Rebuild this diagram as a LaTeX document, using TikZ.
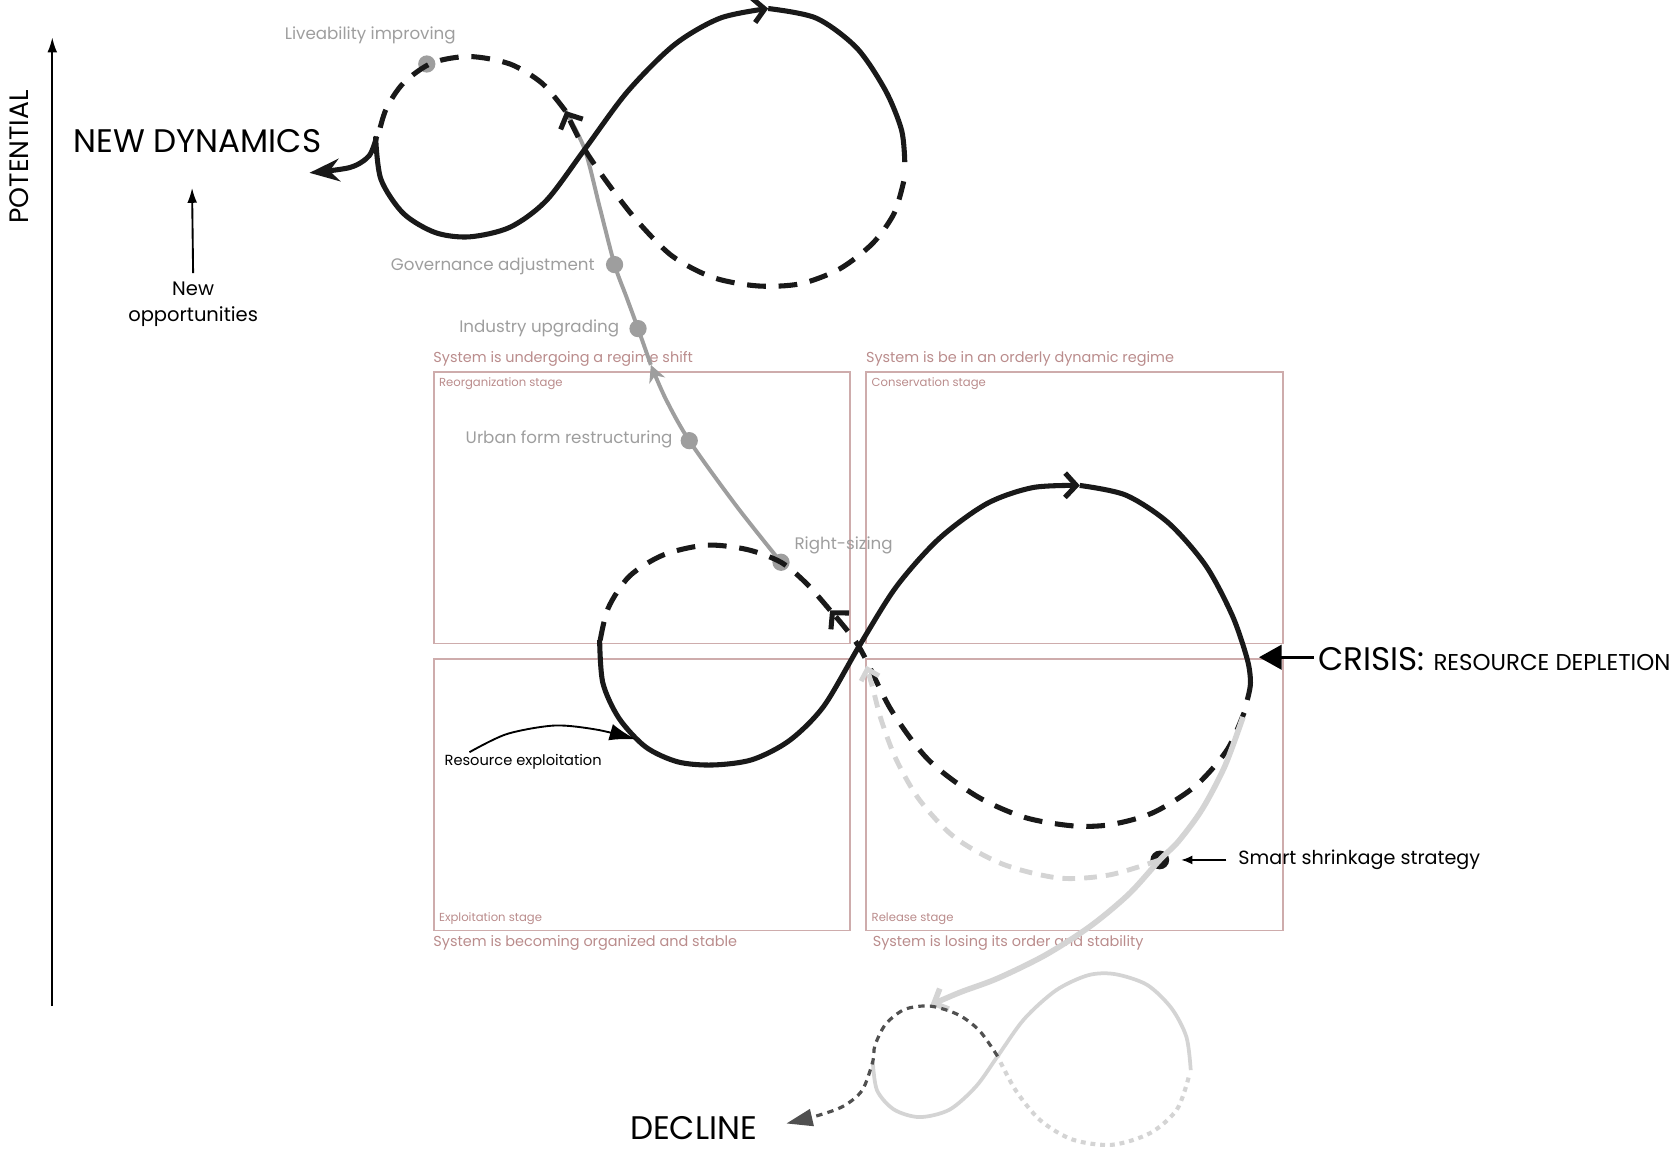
\documentclass[tikz,border=0pt]{standalone}
\usepackage{fontspec}
\setmainfont{Poppins}
\usepackage{xcolor}
\usepackage{tikz}
\usetikzlibrary{arrows.meta,positioning}

\definecolor{stageline}{RGB}{206,172,172}
\definecolor{stageink}{RGB}{186,140,140}
\definecolor{shiftgray}{RGB}{158,158,158}
\definecolor{fadegray}{RGB}{212,212,212}
\definecolor{declineink}{RGB}{80,80,80}
\definecolor{cycleink}{RGB}{25,25,25}

\begin{document}
\begin{tikzpicture}[x=0.01cm, y=-0.01cm,
    stagebox/.style={draw=stageline, line width=0.5pt, minimum width=3.9cm, minimum height=2.54cm, inner sep=0pt},
    stagehead/.style={text=stageink, inner sep=1pt, font={\fontsize{3.85}{5}\selectfont}},
    stagename/.style={text=stageink, inner sep=1.5pt, font={\fontsize{3.1}{4}\selectfont}},
    shiftlabel/.style={text=shiftgray, inner sep=0pt, font={\fontsize{4.45}{5.5}\selectfont}},
    shiftdot/.style={circle, fill=shiftgray, minimum size=4.6pt, inner sep=0pt},
    bigword/.style={inner sep=0pt, font={\fontsize{8.7}{10}\selectfont}},
    note/.style={inner sep=0pt, align=center, font={\fontsize{5.2}{7.1}\selectfont}},
    cyclesolid/.style={cycleink, line width=1.35pt},
    cycledash/.style={cycleink, line width=1.35pt, dash pattern=on 5pt off 3.4pt},
    fadesolid/.style={fadegray, line width=1.5pt},
    fadedash/.style={fadegray, line width=1.3pt, dash pattern=on 3.4pt off 2.4pt},
    shiftline/.style={shiftgray, line width=1.05pt},
    barb/.style={-{Straight Barb[length=3pt, width=6.5pt]}},
    pointer/.style={-{Latex[length=4pt, width=2.6pt]}, line width=0.5pt}
]
\useasboundingbox (0,0) rectangle (1568,1077);

\node[stagebox] (reorg) at (601.5,476) {};
\node[stagebox] (conserv) at (1007,476) {};
\node[stagebox] (exploit) at (601.5,745) {};
\node[stagebox] (release) at (1007,745) {};
\node[stagehead, anchor=south west] at ([xshift=-1pt]reorg.north west) {System is undergoing a regime shift};
\node[stagehead, anchor=south west] at ([xshift=-1pt]conserv.north west) {System is be in an orderly dynamic regime};
\node[stagehead, anchor=north west] at ([xshift=-1pt]exploit.south west) {System is becoming organized and stable};
\node[stagehead, anchor=north west] at ([xshift=0.8pt]release.south west) {System is losing its order and stability};
\node[stagename, anchor=north west] at (reorg.north west) {Reorganization stage};
\node[stagename, anchor=north west] at (conserv.north west) {Conservation stage};
\node[stagename, anchor=south west] at (exploit.south west) {Exploitation stage};
\node[stagename, anchor=south west] at (release.south west) {Release stage};

\coordinate (axbot) at (49,943);
\coordinate (axtop) at (49,35);
\draw[pointer] (axbot) -- (axtop);
\node[inner sep=0pt, rotate=90, font={\fontsize{7.1}{8}\selectfont}] (potential) at (18,147) {POTENTIAL};

\node[bigword] (newdyn) at (185,132) {NEW DYNAMICS};
\node[note] (newopp) at (181,285) {New\\opportunities};
\coordinate (ndtip) at (180,176);
\draw[pointer] ([yshift=2pt]newopp.north) -- (ndtip);

\node[shiftdot] (livedot) at (400,60) {};
\node[shiftdot] (govdot) at (576,248) {};
\node[shiftdot] (inddot) at (598,308) {};
\node[shiftdot] (urbdot) at (646,413) {};
\node[shiftdot] (rsdot) at (732,527) {};
\node[shiftlabel] (livetxt) at (347,33) {Liveability improving};
\node[shiftlabel, anchor=east] (govtxt) at (558,250) {Governance adjustment};
\node[shiftlabel, anchor=east] (indtxt) at (581,308) {Industry upgrading};
\node[shiftlabel, anchor=east] (urbtxt) at (631,412) {Urban form restructuring};
\node[shiftlabel, anchor=west] (rstxt) at (744,511) {Right-sizing};

\coordinate (shiftmid) at (610,342);
\coordinate (ucross) at (548,140);
\coordinate (uchev) at (530,104);
\draw[shiftline, -{Stealth[length=4.5pt, width=4.5pt]}] plot[smooth] coordinates {(rsdot.center) (690,474) (urbdot.center) (624,374) (shiftmid)};
\draw[shiftline] plot[smooth] coordinates {(shiftmid) (inddot.center) (587,278) (govdot.center) (562,194) (ucross) (uchev)};

\draw[cyclesolid, barb] plot[smooth] coordinates {(352,128) (357,168) (378,200) (408,218) (440,222) (478,213) (512,188) (ucross) (588,86) (632,42) (675,17) (720,8)};
\draw[cyclesolid] plot[smooth] coordinates {(720,8) (765,17) (803,45) (830,85) (845,122) (848,152)};
\draw[cycledash, barb] plot[smooth] coordinates {(847,170) (838,200) (818,228) (787,252) (750,266) (710,268) (668,260) (630,240) (598,208) (572,175) (ucross) (uchev)};
\draw[cycledash] plot[smooth] coordinates {(uchev) (508,78) (478,60) (440,53) (405,59) (378,78) (362,102) (355,125)};
\draw[cyclesolid, -{Stealth[length=8pt, width=6pt]}] plot[smooth] coordinates {(353,128) (346,146) (328,157) (290,162)};

\coordinate (lcross) at (805,606);
\coordinate (lchev) at (778,572);
\draw[cyclesolid, barb] plot[smooth] coordinates {(562,600) (565,640) (580,673) (605,700) (635,714) (668,717) (705,712) (740,694) (772,662) (lcross) (840,550) (880,505) (925,472) (968,457) (1012,455)};
\draw[cyclesolid] plot[smooth] coordinates {(1012,455) (1055,464) (1095,490) (1130,530) (1155,577) (1169,618) (1172,640) (1169,656)};
\draw[cycledash, barb] plot[smooth] coordinates {(1166,668) (1150,703) (1120,737) (1080,762) (1040,773) (1005,774) (960,766) (915,746) (870,712) (835,665) (lcross) (lchev)};
\draw[cycledash] plot[smooth] coordinates {(lchev) (756,547) (rsdot.center) (700,515) (662,511) (622,520) (590,540) (570,570) (562,603)};

\node[circle, fill=cycleink, minimum size=5pt, inner sep=0pt] (smartdot) at (1087,806) {};
\node[inner sep=0pt, anchor=west, font={\fontsize{5.1}{6}\selectfont}] (smarttxt) at (1160,806) {Smart shrinkage strategy};
\draw[-{Latex[length=3pt, width=2.4pt]}, line width=0.5pt] ([xshift=-3pt]smarttxt.west) -- ([xshift=3pt]smartdot.east);

\draw[fadedash, -{Straight Barb[length=2.6pt, width=5pt]}] plot[smooth] coordinates {(smartdot.center) (1040,820) (993,823) (940,810) (895,785) (862,750) (840,712) (826,675) (818,645) (812,624)};

\node[bigword, anchor=base west] (crisis) at (1235,628) {CRISIS: {\fontsize{6.1}{7}\selectfont RESOURCE DEPLETION}};
\coordinate (crisistip) at (1180,616);
\draw[line width=0.7pt, -{Triangle[length=6pt, width=6.5pt]}] ([xshift=-1pt]crisis.west |- crisistip) -- (crisistip);

\node[inner sep=0pt, anchor=west, font={\fontsize{3.9}{5}\selectfont}] (exploittxt) at (416,714) {Resource exploitation};
\coordinate (exploittip) at (596,693);
\draw[line width=0.5pt, -{Latex[length=7pt, width=4.5pt]}] plot[smooth] coordinates {(440,705) (475,688) (520,680) (560,684) (exploittip)};

\coordinate (sleft) at (818,995);
\coordinate (scross) at (935,990);
\draw[fadesolid, -{Straight Barb[length=3pt, width=6pt]}] plot[smooth] coordinates {(1165,672) (1148,718) (1127,758) (1105,788) (smartdot.center) (1058,838) (1022,868) (980,895) (935,917) (900,930) (872,942)};
\draw[fadegray, line width=1pt] plot[smooth] coordinates {(sleft) (822,1022) (838,1040) (862,1047) (890,1040) (915,1018) (scross) (960,955) (990,928) (1020,914) (1045,913) (1075,923) (1098,945) (1112,972) (1116,1003)};
\draw[fadegray, line width=1.1pt, dash pattern=on 1.3pt off 1.3pt] plot[smooth] coordinates {(1114,1010) (1103,1040) (1078,1062) (1042,1073) (1005,1068) (975,1050) (952,1022) (scross)};
\draw[declineink, line width=0.85pt, dash pattern=on 1.7pt off 1.4pt, -{Triangle[length=7pt, width=4.5pt]}] plot[smooth] coordinates {(scross) (918,966) (898,951) (872,943) (848,946) (830,960) (820,980) (sleft) (808,1022) (790,1037) (765,1046) (737,1053)};
\node[bigword] (decline) at (650,1057) {DECLINE};
\end{tikzpicture}
\end{document}
